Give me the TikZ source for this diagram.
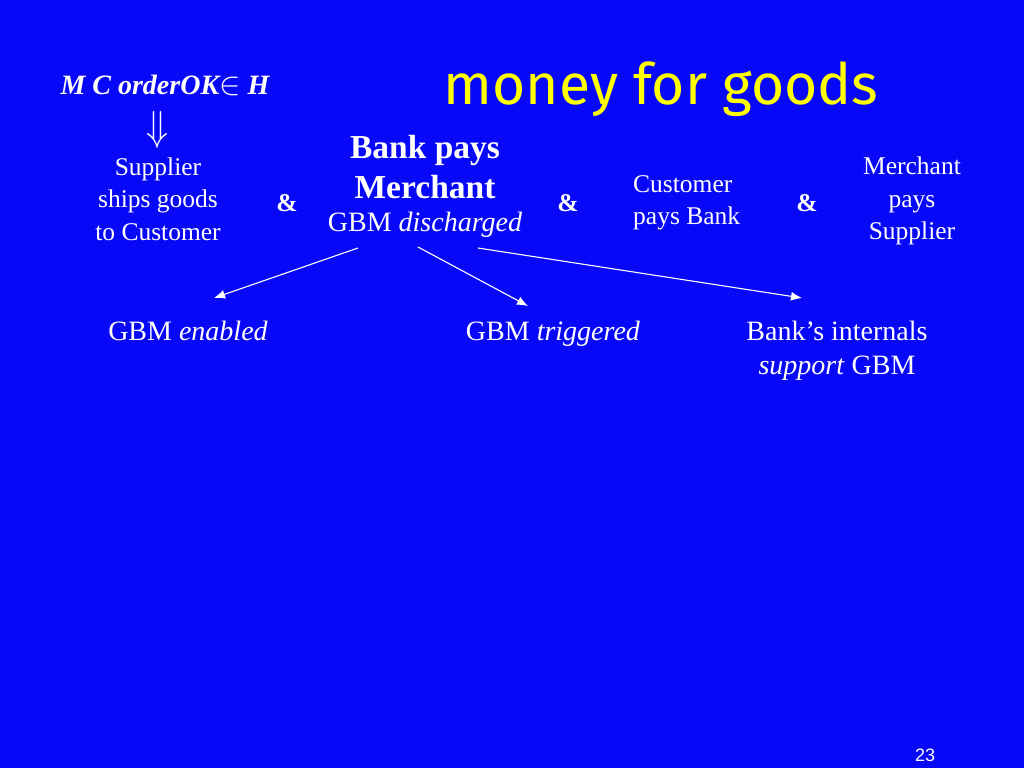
\RequirePackage{fix-cm}
\documentclass[tikz,border=0pt]{standalone}
\usepackage{fontspec}
\usetikzlibrary{arrows.meta}
\setmainfont{Liberation Serif}
\newfontfamily\titlefont{Fira Sans}
\newfontfamily\numfont{Liberation Sans}
\definecolor{bg}{RGB}{8,8,248}
\definecolor{ttl}{RGB}{255,255,0}
\begin{document}
\begin{tikzpicture}[x=1pt,y=-1pt,
  every node/.style={text=white,inner sep=0pt},
  small/.style={font=\fontsize{25.5}{32.5}\selectfont,align=center},
  big/.style={font=\fontsize{28}{34}\selectfont,align=center},
  amp/.style={font=\fontsize{25.5}{30}\selectfont\bfseries},
  link/.style={draw=white,line width=1.1pt,-{Latex[length=11pt,width=9pt]}}]
\useasboundingbox (0,0) rectangle (1024,768);
\fill[bg] (0,0) rectangle (1024,768);
\node[font=\titlefont\fontsize{57}{60}\selectfont,text=ttl] (title) at (661,89) {money for goods};
\node[font=\fontsize{28}{30}\selectfont\bfseries\itshape] (cond) at (165,85) {M C orderOK\scalebox{1.15}{$\in$}\ H};
\node[font=\fontsize{30}{32}\selectfont] (imp) at (157,130) {\scalebox{1.2}[1.4]{$\Downarrow$}};
\node[small] (ship) at (158,199) {Supplier\\ships goods\\to Customer};
\node[amp] (a1) at (287,203) {\&};
\node[font=\fontsize{33.5}{40}\selectfont\bfseries,align=center] (bpm) at (425,167) {Bank pays\\Merchant};
\node[big] (disc) at (425,225) {GBM \textit{discharged}};
\node[amp] (a2) at (568,203) {\&};
\node[small,align=left,anchor=west] (cpb) at (633,203) {Customer\\pays Bank};
\node[amp] (a3) at (807,203) {\&};
\node[small] (mps) at (912,201) {Merchant\\pays\\Supplier};
\node[big] (en) at (188,331) {GBM \textit{enabled}};
\node[big] (tr) at (553,334) {GBM \textit{triggered}};
\node[big] (bi) at (837,351) {Bank’s internals\\\textit{support} GBM};
\node[font=\numfont\fontsize{18}{20}\selectfont] (pg) at (925,755) {23};
\coordinate (s1) at (358,248);
\coordinate (s2) at (418,247);
\coordinate (s3) at (478,248);
\coordinate (e1) at (214,298);
\coordinate (e2) at (528,306);
\coordinate (e3) at (802,298);
\draw[link] (s1) -- (e1);
\draw[link] (s2) -- (e2);
\draw[link] (s3) -- (e3);
\end{tikzpicture}
\end{document}
